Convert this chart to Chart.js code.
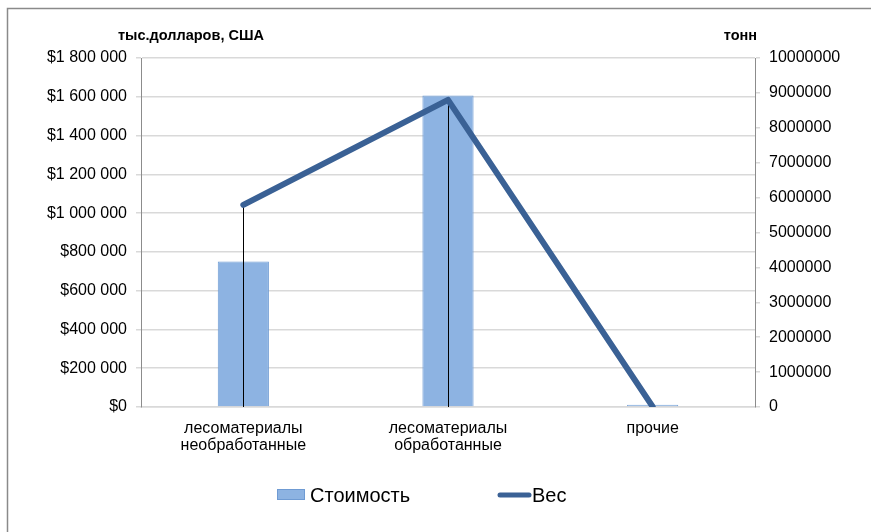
<!DOCTYPE html>
<html>
<head>
<meta charset="utf-8">
<script src="https://cdn.jsdelivr.net/npm/chart.js@4"></script>
<style>
    body { margin: 0; background: #fff; }
    #wrap { width: 871px; height: 532px; }
</style>
</head>
<body>
<div id="wrap"><canvas id="exportChart" width="871" height="532"></canvas></div>
<script>
// Chart data
const categories = [['лесоматериалы', 'необработанные'], ['лесоматериалы', 'обработанные'], 'прочие'];
const costValues = [750000, 1607000, 12000];
const weightValues = [5790000, 8800000, 10000];
const seriesNames = ['Стоимость', 'Вес'];
const leftTitle = 'тыс.долларов, США';
const rightTitle = 'тонн';

const barColor = '#8db3e2';
const barBorder = '#6f9bd3';
const lineColor = '#3a6195';
const gridColor = '#d9d9d9';
const axisColor = '#8c8c8c';
const font = 'Liberation Sans, Arial, sans-serif';

// Format like "$1 800 000"
function money(v) {
    return '$' + String(v).replace(/\B(?=(\d{3})+(?!\d))/g, ' ');
}

// Frame, drop lines, axis titles and legend
const extras = {
    id: 'extras',
    beforeDraw(chart) {
        const ctx = chart.ctx;
        ctx.save();
        ctx.strokeStyle = '#8a8a8a';
        ctx.lineWidth = 1.5;
        ctx.beginPath();
        ctx.moveTo(7.5, chart.height);
        ctx.lineTo(7.5, 8.5);
        ctx.lineTo(chart.width, 8.5);
        ctx.stroke();
        ctx.restore();
    },
    beforeDatasetDraw(chart, args) {
        if (args.index !== 1) return;
        const ctx = chart.ctx;
        const bottom = chart.scales.x.top;
        ctx.save();
        ctx.strokeStyle = '#000';
        ctx.lineWidth = 1;
        chart.getDatasetMeta(1).data.forEach(pt => {
            if (bottom - pt.y < 2) return;
            ctx.beginPath();
            ctx.moveTo(Math.round(pt.x) + 0.5, pt.y);
            ctx.lineTo(Math.round(pt.x) + 0.5, bottom);
            ctx.stroke();
        });
        ctx.restore();
    },
    afterDraw(chart) {
        const ctx = chart.ctx;
        const area = chart.chartArea;
        ctx.save();
        ctx.fillStyle = '#000';
        ctx.font = 'bold 14.5px ' + font;
        ctx.textBaseline = 'middle';
        ctx.textAlign = 'left';
        ctx.fillText(leftTitle, area.left - 23, 36);
        ctx.textAlign = 'right';
        ctx.fillText(rightTitle, area.right + 2, 36);

        // legend
        const y = 495;
        let x = 277;
        ctx.font = '20px ' + font;
        ctx.textAlign = 'left';
        ctx.fillStyle = barColor;
        ctx.fillRect(x, y - 6, 28, 11);
        ctx.strokeStyle = barBorder;
        ctx.lineWidth = 1;
        ctx.strokeRect(x + 0.5, y - 5.5, 27, 10);
        ctx.fillStyle = '#000';
        ctx.fillText(seriesNames[0], x + 33, y + 1);

        x = 498;
        ctx.strokeStyle = lineColor;
        ctx.lineWidth = 5;
        ctx.lineCap = 'round';
        ctx.beginPath();
        ctx.moveTo(x + 2, y);
        ctx.lineTo(x + 31, y);
        ctx.stroke();
        ctx.fillText(seriesNames[1], x + 34, y + 1);
        ctx.restore();
    }
};

const ctx = document.getElementById('exportChart').getContext('2d');
const chart = new Chart(ctx, {
    type: 'bar',
    data: {
        labels: categories,
        datasets: [{
            type: 'bar',
            label: seriesNames[0],
            data: costValues,
            backgroundColor: barColor,
            borderColor: barBorder,
            borderWidth: 1,
            barPercentage: 0.25,
            categoryPercentage: 1,
            yAxisID: 'y',
            order: 2
        }, {
            type: 'line',
            label: seriesNames[1],
            data: weightValues,
            borderColor: lineColor,
            backgroundColor: lineColor,
            borderWidth: 6,
            borderCapStyle: 'round',
            borderJoinStyle: 'round',
            pointRadius: 0,
            pointHoverRadius: 0,
            tension: 0,
            yAxisID: 'y1',
            order: 1
        }]
    },
    options: {
        responsive: false,
        animation: false,
        layout: { padding: { top: 58, left: 0, right: 0, bottom: 0 } },
        plugins: {
            legend: { display: false },
            tooltip: { enabled: false }
        },
        scales: {
            x: {
                grid: { display: false },
                border: { color: gridColor, width: 1.5 },
                ticks: {
                    color: '#000',
                    font: { family: font, size: 16, lineHeight: 1.05 },
                    padding: 5,
                    maxRotation: 0
                },
                afterFit(scale) { scale.height = 125; }
            },
            y: {
                position: 'left',
                min: 0,
                max: 1800000,
                ticks: {
                    stepSize: 200000,
                    color: '#000',
                    font: { family: font, size: 16 },
                    padding: 9,
                    callback: v => money(v)
                },
                grid: { color: gridColor, lineWidth: 1.5, tickLength: 5, tickColor: gridColor },
                border: { color: axisColor, width: 1 },
                afterFit(scale) { scale.width = 141; }
            },
            y1: {
                position: 'right',
                min: 0,
                max: 10000000,
                ticks: {
                    stepSize: 1000000,
                    color: '#000',
                    font: { family: font, size: 16 },
                    padding: 9,
                    callback: v => String(v)
                },
                grid: { drawOnChartArea: false, tickLength: 5, tickColor: gridColor, lineWidth: 1.5 },
                border: { color: axisColor, width: 1 },
                afterFit(scale) { scale.width = 116; }
            }
        }
    },
    plugins: [extras]
});
</script>
</body>
</html>
